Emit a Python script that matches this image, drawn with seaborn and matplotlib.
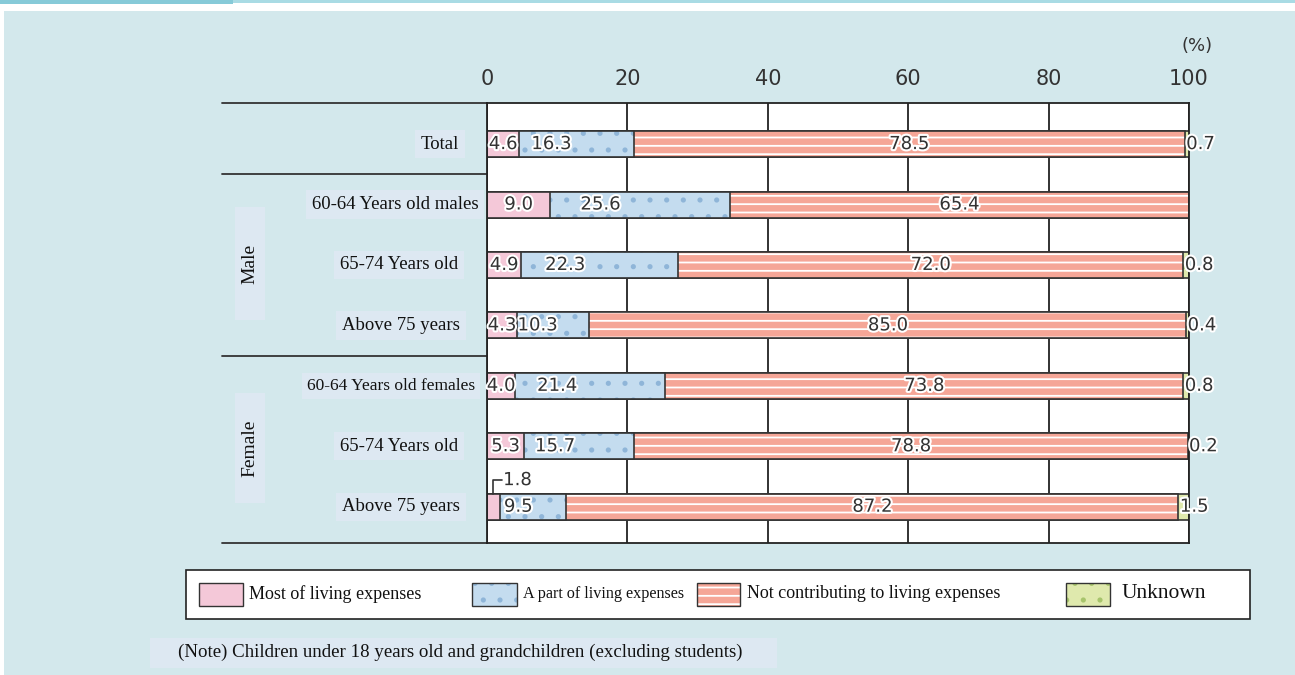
import numpy as np
import pandas as pd
import matplotlib
matplotlib.use("Agg")
import matplotlib.pyplot as plt
import matplotlib.patheffects as pe
from matplotlib.patches import Rectangle
from matplotlib.transforms import blended_transform_factory
import seaborn as sns

# data
rows = ["total", "m6064", "m6574", "m75", "f6064", "f6574", "f75"]
row_labels = ["Total", "60-64 Years old males", "65-74 Years old", "Above 75 years",
              "60-64 Years old females", "65-74 Years old", "Above 75 years"]
most = [4.6, 9.0, 4.9, 4.3, 4.0, 5.3, 1.8]
part = [16.3, 25.6, 22.3, 10.3, 21.4, 15.7, 9.5]
notcontrib = [78.5, 65.4, 72.0, 85.0, 73.8, 78.8, 87.2]
unknown = [0.7, 0.0, 0.8, 0.4, 0.8, 0.2, 1.5]
series_names = ["Most of living expenses", "A part of living expenses",
                "Not contributing to living expenses", "Unknown"]
ticks = [0, 20, 40, 60, 80, 100]

W, H = 1295, 675
sns.set_theme(style="white")
plt.rcParams["font.family"] = ["DejaVu Sans"]
plt.rcParams["hatch.linewidth"] = 1.3

face = ["#f4c8d8", "#c4dcef", "#f5a697", "#dfe9ad"]
hatch_col = [None, "#8fb5d8", "white", "#a7c46c"]
hatches = [None, ".", "--", "."]
edge = "#333333"

vals = np.array([most, part, notcontrib, unknown]).T
cum = np.cumsum(vals, axis=1)
df = pd.DataFrame({"row": rows})
for k in range(4):
    df[f"c{k}"] = cum[:, k]

fig = plt.figure(figsize=(W / 100, H / 100), dpi=100)
fig.patch.set_facecolor("white")


def fx(px):
    return px / W


def fy(py):
    return 1 - py / H


# page background and header strip
fig.add_artist(Rectangle((fx(4), 0), 1, fy(11), transform=fig.transFigure,
                         fc="#d3e8ec", ec="none", zorder=-5))
fig.add_artist(Rectangle((0, fy(4)), fx(233), 4 / H, transform=fig.transFigure,
                         fc="#86cad8", ec="none"))
fig.add_artist(Rectangle((fx(233), fy(3)), 1, 3 / H, transform=fig.transFigure,
                         fc="#a9dbe4", ec="none"))

ax = fig.add_axes([fx(487), fy(543), 702 / W, 440 / H])
ax.set_facecolor("white")

bw = 0.43
for k in [3, 2, 1, 0]:
    sns.barplot(data=df, x=f"c{k}", y="row", order=rows, orient="h", color=face[k],
                saturation=1, errorbar=None, width=bw, linewidth=0, ax=ax)
    if hatches[k]:
        sns.barplot(data=df, x=f"c{k}", y="row", order=rows, orient="h",
                    color=hatch_col[k], fill=False, hatch=hatches[k], saturation=1,
                    errorbar=None, width=bw, linewidth=0, ax=ax)
    sns.barplot(data=df, x=f"c{k}", y="row", order=rows, orient="h", color=edge,
                fill=False, saturation=1, errorbar=None, width=bw, linewidth=1.2, ax=ax)

ax.set_xlim(0, 100)
ax.set_ylim(6.60, -0.68)
ax.set_xticks(ticks)
ax.set_yticks([])
ax.set_xlabel("")
ax.set_ylabel("")
ax.xaxis.tick_top()
ax.tick_params(axis="x", length=0, pad=10, labelsize=15, labelcolor="#333333")
ax.xaxis.grid(True, color="#222222", lw=1.3)
ax.set_axisbelow(True)
for s in ax.spines.values():
    s.set_visible(True)
    s.set_color("#222222")
    s.set_linewidth(1.3)
ax.text(1.012, 1.0 + 57 / 440, "(%)", transform=ax.transAxes, ha="center",
        va="center", fontsize=13, color="#333333")

# value labels
stroke = [pe.withStroke(linewidth=3, foreground="white")]
lab = dict(fontsize=13, color="#333333", va="center", path_effects=stroke, zorder=10)
for i in range(len(rows)):
    if i == 6:
        ax.plot([0.85, 0.85, 2.1], [6 - bw / 2, 5.56, 5.56], color="#333333", lw=1.2,
                clip_on=False, zorder=10)
        ax.text(2.3, 5.56, f"{most[i]:.1f}", ha="left", **lab)
    else:
        ax.text(most[i] / 2, i, f"{most[i]:.1f}", ha="center", **lab)
    ax.text(cum[i, 0] + part[i] * 0.28, i, f"{part[i]:.1f}", ha="center", **lab)
    ax.text(cum[i, 1] + notcontrib[i] / 2, i, f"{notcontrib[i]:.1f}", ha="center", **lab)
    if unknown[i] > 0:
        ax.text(cum[i, 2] + 0.2, i, f"{unknown[i]:.1f}", ha="left", **lab)

# left-hand table lines and labels
tr = blended_transform_factory(ax.transAxes, ax.transData)
x0 = (222 - 487) / 702
for yy in [-0.68, 0.5, 3.5, 6.60]:
    ax.plot([x0, 0], [yy, yy], color="#333333", lw=1.3, transform=tr, clip_on=False)

trf = blended_transform_factory(fig.transFigure, ax.transData)
serif = ["Liberation Serif", "DejaVu Serif"]
box = dict(boxstyle="square,pad=0.3", fc="#dde8f2", ec="none")
label_x = [440, 395, 399, 401, 391, 399, 401]
for i, name in enumerate(row_labels):
    fs = 12.5 if i == 4 else 13.5
    ax.text(fx(label_x[i]), i, name, transform=trf, ha="center", va="center", fontsize=fs,
            family=serif, color="#111111", bbox=box)

for (y_top, y_bot), name in zip([(207, 320), (393, 503)], ["Male", "Female"]):
    fig.add_artist(Rectangle((fx(235), fy(y_bot)), 30 / W, (y_bot - y_top) / H,
                             transform=fig.transFigure, fc="#dde8f2", ec="none"))
    fig.text(fx(250), fy((y_top + y_bot) / 2), name, rotation=90, ha="center",
             va="center", fontsize=14, family=serif, color="#111111")

# legend
fig.add_artist(Rectangle((fx(186), fy(619)), (1250 - 186) / W, 49 / H,
                         transform=fig.transFigure, fc="white", ec="#222222", lw=1.2))
leg_px = [(199, 243, 249, 13), (472, 517, 523, 11.6), (697, 740, 747, 13), (1066, 1110, 1122, 15.5)]
for k, (p0, p1, tx, fs) in enumerate(leg_px):
    rect = (fx(p0), fy(606))
    fig.add_artist(Rectangle(rect, (p1 - p0) / W, 23 / H, transform=fig.transFigure,
                             fc=face[k], ec="none"))
    if hatches[k]:
        fig.add_artist(Rectangle(rect, (p1 - p0) / W, 23 / H, transform=fig.transFigure,
                                 fill=False, ec=hatch_col[k], hatch=hatches[k], lw=0))
    fig.add_artist(Rectangle(rect, (p1 - p0) / W, 23 / H, transform=fig.transFigure,
                             fill=False, ec="#333333", lw=1))
    fig.text(fx(tx), fy(594), series_names[k], ha="left", va="center", fontsize=fs,
             family=serif, color="#111111")

# note
fig.add_artist(Rectangle((fx(150), fy(668)), (777 - 150) / W, 30 / H,
                         transform=fig.transFigure, fc="#dde8f2", ec="none"))
fig.text(fx(178), fy(652), "(Note) Children under 18 years old and grandchildren (excluding students)",
         ha="left", va="center", fontsize=13.6, family=serif, color="#111111")

fig.savefig("out.png", dpi=100)
